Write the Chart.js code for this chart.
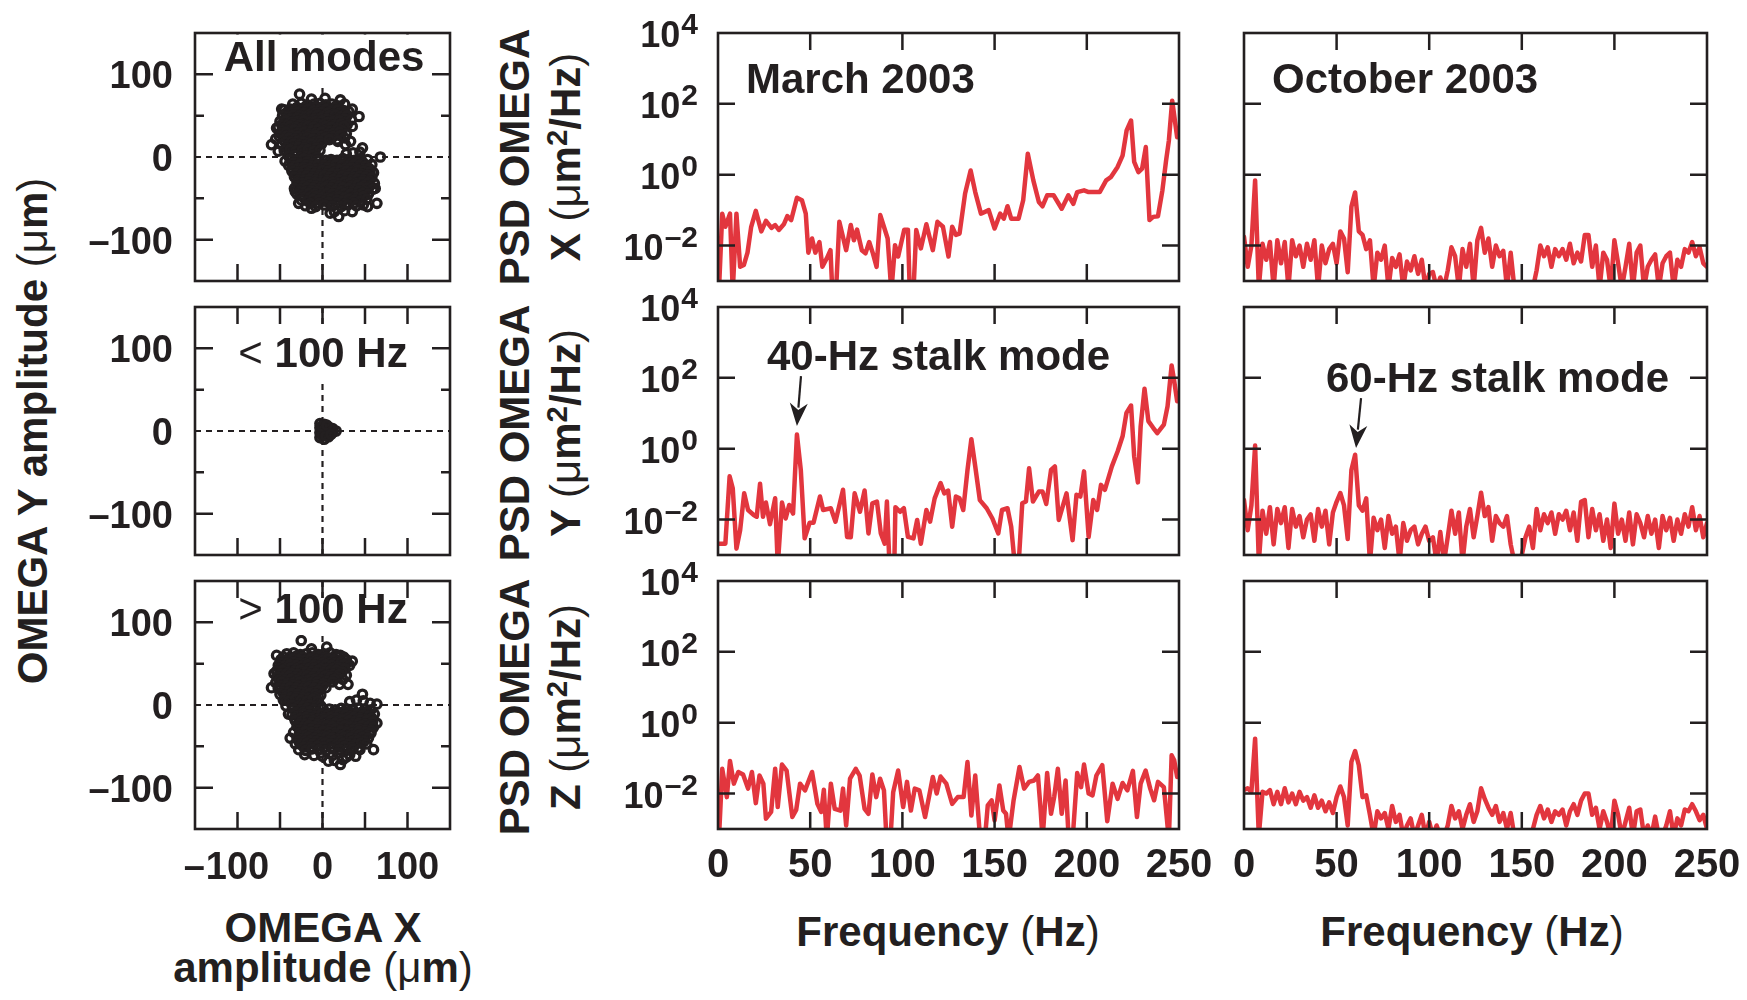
<!DOCTYPE html>
<html>
<head>
<meta charset="utf-8">
<script src="https://cdn.jsdelivr.net/npm/chart.js@4.4.0/dist/chart.umd.min.js"></script>
<style>
  html, body { margin: 0; padding: 0; background: #fff; }
  body { width: 1747px; height: 1000px; position: relative; overflow: hidden;
         font-family: "Liberation Sans", Arial, Helvetica, sans-serif; color: #231f20; }
  canvas { position: absolute; }
  .ttl { position: absolute; font-weight: bold; font-size: 42px; line-height: 1; white-space: nowrap;
         transform: translate(-50%, -50%); }
  .rot { transform: translate(-50%, -50%) rotate(-90deg); }
  .n { font-weight: normal; }
  .sup { font-size: 0.7em; position: relative; top: -0.45em; }
</style>
</head>
<body>
<div class="ttl rot" style="left:33px; top:431px">OMEGA Y amplitude <span class="n">(μ</span>m<span class="n">)</span></div>
<div class="ttl rot" style="left:515px; top:157px">PSD OMEGA</div>
<div class="ttl rot" style="left:566px; top:157px">X <span class="n">(μ</span>m<span class="sup">2</span>/Hz<span class="n">)</span></div>
<div class="ttl rot" style="left:515px; top:433px">PSD OMEGA</div>
<div class="ttl rot" style="left:566px; top:433px">Y <span class="n">(μ</span>m<span class="sup">2</span>/Hz<span class="n">)</span></div>
<div class="ttl rot" style="left:515px; top:707px">PSD OMEGA</div>
<div class="ttl rot" style="left:566px; top:707px">Z <span class="n">(μ</span>m<span class="sup">2</span>/Hz<span class="n">)</span></div>
<div class="ttl" style="left:323px; top:928px">OMEGA X</div>
<div class="ttl" style="left:323px; top:968px">amplitude <span class="n">(μ</span>m<span class="n">)</span></div>
<div class="ttl" style="left:948px; top:932px">Frequency <span class="n">(</span>Hz<span class="n">)</span></div>
<div class="ttl" style="left:1472px; top:932px">Frequency <span class="n">(</span>Hz<span class="n">)</span></div>

<script>
const ink = '#231f20';
const red = '#e2363e';
const fam = '"Liberation Sans", Arial, sans-serif';

// tick labels
const ampTicks = [-100, 0, 100];
const freqTicks = [0, 50, 100, 150, 200, 250];
const psdExp = [-2, 0, 2, 4];

// OMEGA X / Y amplitude (um)
const allModesXY = [
  [-27,76],[-13,70],[3,71],[21,69],[35,58],[43,49],[35,37],[33,19],[27,15],[-48,58],[-54,35],[-60,15],[-52,7],
  [-44,-5],[-36,-17],[-32,-42],[-28,-56],[-13,-62],[9,-68],[19,-72],[35,-66],[53,-60],[64,-56],[62,-38],[60,-19],[68,0],[47,11],
  [-35,64],[-25,65],[-18,63],[-10,64],[-3,65],[4,63],[11,64],[18,62],[26,64],
  [-30,60],[-21,60],[-14,59],[-7,61],[0,60],[7,59],[14,60],[21,58],
  [-45,57],[-38,58],[-31,56],[-24,57],[-17,58],[-10,56],[-3,57],[4,58],[11,56],[18,57],[25,56],[31,55],
  [-43,53],[-36,53],[-29,54],[-22,53],[-15,52],[-8,53],[-1,54],[6,53],[13,52],[20,53],[27,53],
  [-47,50],[-40,49],[-34,51],[-27,50],[-20,49],[-13,50],[-6,51],[1,49],[8,50],[15,51],[22,49],[29,50],
  [-44,46],[-37,46],[-30,47],[-23,46],[-16,45],[-9,46],[-2,47],[5,46],[12,45],[19,46],[26,46],
  [-50,43],[-43,44],[-36,42],[-29,43],[-22,44],[-15,42],[-8,43],[-1,44],[6,42],[13,43],[20,44],[27,42],[34,45],
  [-48,39],[-41,39],[-34,40],[-27,39],[-20,38],[-13,39],[-6,40],[1,39],[8,38],[15,39],[22,40],[29,39],
  [-52,36],[-45,35],[-38,37],[-31,36],[-24,35],[-17,37],[-10,36],[-3,35],[4,37],[11,36],[18,35],[25,37],
  [-47,32],[-40,32],[-33,33],[-26,32],[-19,31],[-12,32],[-5,33],[2,32],[9,31],[16,32],[23,32],
  [-50,29],[-43,30],[-36,28],[-29,29],[-22,30],[-15,28],[-8,29],[-1,30],[6,28],[13,29],[20,30],[28,28],
  [-51,25],[-43,25],[-36,26],[-29,25],[-22,24],[-15,25],[-8,26],[-1,25],[6,24],[13,25],[21,26],
  [-55,22],[-46,21],[-39,23],[-32,22],[-25,21],[-18,23],[-11,22],[-4,21],[3,23],[10,22],[17,21],[26,23],
  [-44,18],[-37,18],[-30,19],[-23,18],[-16,17],[-9,18],[-3,19],
  [-48,15],[-41,14],[-34,16],[-27,15],[-20,14],[-13,16],[-6,15],[-1,16],[8,21],[18,19],
  [-42,11],[-35,11],[-28,12],[-21,11],[-14,10],[-7,11],
  [-45,8],[-38,9],[-31,7],[-24,8],[-17,9],[-10,7],[-3,8],
  [-40,1],[-33,2],[-26,0],[-19,1],[-12,2],[-6,0],
  [28,4],[36,5],[44,6],
  [-38,-3],[-30,-4],[-22,-2],[-14,-3],[-6,-4],[4,-4],[10,-3],[17,-4],[24,-2],[31,-3],[38,-4],[45,-2],[53,-3],
  [-34,-7],[-26,-7],[-18,-6],[-10,-7],[-1,-8],[6,-7],[13,-6],[20,-7],[27,-8],[34,-7],[41,-6],[48,-7],
  [-40,-10],[-33,-11],[-26,-9],[-19,-10],[-12,-11],[-5,-9],[2,-10],[9,-11],[16,-9],[23,-10],[30,-11],[37,-9],[44,-10],[51,-11],[58,-9],
  [-36,-14],[-29,-14],[-22,-13],[-15,-14],[-8,-15],[-1,-14],[6,-13],[13,-14],[20,-15],[27,-14],[34,-13],[41,-14],[48,-15],[55,-14],
  [-35,-17],[-28,-18],[-21,-16],[-14,-17],[-7,-18],[0,-16],[7,-17],[14,-18],[21,-16],[28,-17],[35,-18],[42,-16],[49,-17],[56,-18],
  [-31,-21],[-24,-21],[-17,-20],[-10,-21],[-3,-22],[4,-21],[11,-20],[18,-21],[25,-22],[32,-21],[39,-20],[46,-21],[53,-22],
  [-33,-24],[-26,-25],[-19,-23],[-12,-24],[-5,-25],[2,-23],[9,-24],[16,-25],[23,-23],[30,-24],[37,-25],[44,-23],[51,-24],[58,-25],
  [-29,-28],[-22,-28],[-15,-27],[-8,-28],[-1,-29],[6,-28],[13,-27],[20,-28],[27,-29],[34,-28],[41,-27],[48,-28],[55,-29],
  [-30,-31],[-23,-32],[-16,-30],[-9,-31],[-2,-32],[5,-30],[12,-31],[19,-32],[26,-30],[33,-31],[40,-32],[47,-30],[54,-31],[61,-32],
  [-29,-35],[-22,-35],[-15,-34],[-8,-35],[-1,-36],[6,-35],[13,-34],[20,-35],[27,-36],[34,-35],[41,-34],[48,-35],[55,-36],
  [-33,-38],[-25,-39],[-18,-37],[-11,-38],[-4,-39],[3,-37],[10,-38],[17,-39],[24,-37],[31,-38],[38,-39],[45,-37],[52,-38],[59,-39],
  [-27,-42],[-20,-42],[-13,-41],[-6,-42],[1,-43],[8,-42],[15,-41],[22,-42],[29,-43],[36,-42],[43,-41],[50,-42],
  [-30,-45],[-23,-46],[-16,-44],[-9,-45],[-2,-46],[5,-44],[12,-45],[19,-46],[26,-44],[33,-45],[40,-46],[47,-44],[54,-45],
  [-22,-49],[-15,-49],[-8,-48],[-1,-49],[6,-50],[13,-49],[20,-48],[27,-49],[34,-50],[41,-49],[48,-48],
  [-25,-52],[-18,-53],[-11,-51],[-4,-52],[3,-53],[10,-51],[17,-52],[24,-53],[31,-51],[38,-52],[45,-53],[52,-51],
  [-14,-56],[-4,-56],[7,-55],[17,-56],[27,-57],[37,-56],
  [-20,-59],[-8,-60],[2,-58],[12,-59],[22,-60],[30,-58],[40,-59],[48,-58],
  [14,-66],[26,-65]
];
const below100XY = [
  [-3,-8],[-3,-2],[-3,4],[-3,9],[2,-10],[2,-4],[2,2],[2,8],[7,-7],[7,-1],[7,5],[12,-2],[12,3],[16,0],[0,0],[5,2],
  [-1,-5],[4,-6],[9,3],[-1,6],[5,7],[10,-4]
];
const above100XY = [
  [-54,60],[-25,78],[-13,68],[5,70],[21,60],[35,53],[30,25],[-60,21],[-40,-11],[-28,-22],[-38,-40],[-21,-60],[7,-68],
  [21,-72],[39,-62],[60,-54],[64,-22],[64,1],[47,13],[-57,38],[28,36],
  [-42,62],[-34,63],[-26,61],[-19,62],[-12,63],[-5,61],[2,62],[9,63],[16,61],
  [-46,58],[-38,58],[-31,59],[-24,58],[-17,57],[-10,58],[-3,59],[4,58],[11,57],[18,58],[25,58],
  [-49,55],[-42,54],[-35,56],[-28,55],[-21,54],[-14,56],[-7,55],[0,54],[7,56],[14,55],[21,54],[28,55],
  [-48,51],[-41,51],[-34,52],[-27,51],[-20,50],[-13,51],[-6,52],[1,51],[8,50],[15,51],[22,52],[29,51],
  [-52,48],[-45,47],[-38,49],[-31,48],[-24,47],[-17,49],[-10,48],[-3,47],[4,49],[11,48],[18,47],[25,49],[32,48],
  [-51,44],[-44,44],[-37,45],[-30,44],[-23,43],[-16,44],[-9,45],[-2,44],[5,43],[12,44],[19,45],[26,44],
  [-54,41],[-47,42],[-40,40],[-33,41],[-26,42],[-19,40],[-12,41],[-5,42],[2,40],[9,41],[16,42],[23,40],
  [-50,37],[-43,37],[-36,38],[-29,37],[-22,36],[-15,37],[-8,38],[-1,37],[6,36],[13,37],[20,37],
  [-53,34],[-46,33],[-39,35],[-32,34],[-25,33],[-18,35],[-11,34],[-4,33],[3,35],[10,34],[17,33],[24,31],
  [-51,30],[-44,30],[-37,31],[-30,30],[-23,29],[-16,30],[-9,31],[-2,30],[5,29],[14,31],
  [-55,27],[-48,28],[-41,26],[-34,27],[-27,28],[-20,26],[-13,27],[-6,28],[1,26],[12,28],[20,25],
  [-49,23],[-42,23],[-35,24],[-28,23],[-21,22],[-14,23],[-7,24],[0,23],
  [-52,20],[-45,19],[-38,21],[-31,20],[-24,19],[-17,21],[-10,20],[-3,19],[4,21],
  [-47,16],[-40,16],[-33,17],[-26,16],[-19,15],[-12,16],[-5,17],
  [-50,13],[-43,12],[-36,14],[-29,13],[-22,12],[-15,14],[-8,13],[-2,12],
  [-44,9],[-37,9],[-30,10],[-23,9],[-16,8],[-9,9],
  [-46,6],[-39,5],[-32,7],[-25,6],[-18,5],[-11,7],[-5,5],
  [-43,-1],[-36,0],[-29,-2],[-22,-1],[-15,0],[-8,-2],[-2,-1],
  [32,4],[40,6],[48,5],[56,2],
  [-34,-5],[-26,-6],[-18,-4],[-10,-5],[0,-4],[8,-5],[15,-6],[22,-4],[29,-5],[36,-6],[43,-4],[50,-5],[57,-6],
  [-31,-9],[-23,-9],[-15,-8],[-6,-9],[4,-9],[11,-10],[18,-9],[25,-8],[32,-9],[39,-10],[46,-9],[53,-8],
  [-36,-12],[-29,-13],[-22,-11],[-15,-12],[-8,-13],[-1,-11],[6,-12],[13,-13],[20,-11],[27,-12],[34,-13],[41,-11],[48,-12],[55,-13],[61,-11],
  [-33,-16],[-26,-16],[-19,-15],[-12,-16],[-5,-17],[2,-16],[9,-15],[16,-16],[23,-17],[30,-16],[37,-15],[44,-16],[51,-17],[58,-16],
  [-32,-19],[-25,-20],[-18,-18],[-11,-19],[-4,-20],[3,-18],[10,-19],[17,-20],[24,-18],[31,-19],[38,-20],[45,-18],[52,-19],[59,-20],
  [-27,-23],[-20,-23],[-13,-22],[-6,-23],[1,-24],[8,-23],[15,-22],[22,-23],[29,-24],[36,-23],[43,-22],[50,-23],[57,-24],
  [-30,-26],[-23,-27],[-16,-25],[-9,-26],[-2,-27],[5,-25],[12,-26],[19,-27],[26,-25],[33,-26],[40,-27],[47,-25],[54,-26],[60,-27],
  [-27,-30],[-20,-30],[-13,-29],[-6,-30],[1,-31],[8,-30],[15,-29],[22,-30],[29,-31],[36,-30],[43,-29],[50,-30],[57,-31],
  [-34,-33],[-27,-34],[-20,-32],[-13,-33],[-6,-34],[1,-32],[8,-33],[15,-34],[22,-32],[29,-33],[36,-34],[43,-32],[50,-33],[57,-34],
  [-26,-37],[-19,-37],[-12,-36],[-5,-37],[2,-38],[9,-37],[16,-36],[23,-37],[30,-38],[37,-37],[44,-36],[51,-37],
  [-30,-40],[-23,-41],[-16,-39],[-9,-40],[-2,-41],[5,-39],[12,-40],[19,-41],[26,-39],[33,-40],[40,-41],[47,-39],[54,-40],
  [-28,-44],[-21,-44],[-14,-43],[-7,-44],[0,-45],[7,-44],[14,-43],[21,-44],[28,-45],[35,-44],[42,-43],[49,-44],
  [-32,-47],[-25,-48],[-18,-46],[-11,-47],[-4,-48],[3,-46],[10,-47],[17,-48],[24,-46],[31,-47],[38,-48],[45,-46],[52,-47],
  [-22,-51],[-14,-51],[-6,-50],[2,-51],[10,-52],[18,-51],[26,-50],[34,-51],[42,-52],
  [-28,-54],[-20,-55],[-12,-53],[-4,-54],[4,-55],[12,-53],[20,-54],[28,-55],[36,-53],[44,-54],
  [-10,-61],[0,-62],[12,-61],[28,-63],[32,-60],[-2,-58],[18,-58],
  [14,-67],[24,-66]
];

// March 2003 spectra: [frequency Hz, log10 PSD (um^2/Hz)]
const marchX = [
  [0.5,-3.3],[2.3,-1.1],[4,-1.47],[6.5,-1.1],[8,-3.3],[10,-1.1],[12,-2.6],[14,-2.55],[16,-2.2],[18,-1.47],[20.5,-1.02],
  [23.5,-1.6],[26,-1.3],[29,-1.5],[31,-1.42],[33,-1.56],[35.7,-1.4],[37.6,-1.17],[39.7,-1.28],[42.8,-0.65],[45.5,-0.72],
  [47.6,-1.1],[49,-2.2],[51,-1.8],[52.8,-2.2],[55,-1.9],[56.6,-2.6],[59,-2.36],[61,-2.13],[62,-3.3],[64,-3.3],[65.8,-1.33],
  [69.5,-2.13],[72,-1.42],[73.7,-1.85],[75.4,-1.55],[78,-2.13],[80,-2.22],[82,-1.9],[84,-2.22],[86,-2.6],[88,-1.14],
  [92,-1.8],[94,-3.3],[96,-1.99],[97.7,-2.31],[101,-1.55],[103,-1.55],[104,-3.3],[106,-3.3],[107.5,-1.56],[110,-2.08],
  [113,-1.4],[116.5,-2.13],[119,-1.33],[122,-1.47],[125,-2.31],[127,-1.47],[129,-1.7],[131,-1.66],[134,-0.53],[137,0.12],
  [139.5,-0.49],[142.6,-1.1],[146.8,-1.0],[150,-1.52],[153,-1.1],[155,-1.24],[157,-0.89],[159,-1.24],[163,-1.24],
  [165.5,-0.72],[168,0.59],[171,-0.16],[174,-0.77],[176,-0.89],[178.5,-0.58],[182,-0.58],[186.4,-0.96],[190,-0.58],
  [192.7,-0.82],[194.8,-0.49],[198.5,-0.44],[201,-0.49],[207,-0.49],[210.5,-0.16],[213,-0.07],[216.7,0.22],[219.4,0.54],
  [221.6,1.25],[224,1.53],[225.7,0.36],[228,0.07],[230,0.17],[232,0.78],[234,-1.28],[236,-1.19],[238.6,-1.17],[241,-0.44],
  [243,0.4],[244.5,0.96],[246.3,2.09],[249,1.06]
];
const marchY = [
  [0.5,-2.68],[4,-2.68],[6.3,-0.78],[8,-1.12],[10,-2.82],[12,-2.3],[14.2,-1.26],[16.3,-1.73],[19.4,-1.87],[21,-1.92],
  [22.8,-0.99],[24.4,-1.92],[26,-1.52],[28.2,-2.13],[31,-1.4],[32.4,-3.3],[34.7,-1.52],[36.7,-1.97],[38.6,-1.59],
  [40.7,-1.83],[42.8,0.4],[44.9,-0.6],[47,-2.53],[49.7,-2.09],[51.8,-2.09],[55.3,-1.35],[57,-1.73],[61.2,-1.68],
  [63.7,-2.06],[67.8,-1.16],[70,-2.49],[72,-2.5],[74.1,-1.26],[77,-1.78],[79.5,-1.18],[81.6,-2.39],[83.7,-1.54],
  [86.2,-1.49],[88.3,-2.39],[90.4,-2.68],[91.6,-1.49],[93,-3.3],[95.6,-3.3],[96.2,-1.65],[98.7,-1.78],[100.8,-1.68],
  [103,-2.49],[106,-2.53],[108,-2.01],[110,-2.68],[113,-1.73],[115,-2.06],[117.5,-1.4],[120.7,-0.97],[122.7,-1.26],
  [124.8,-1.18],[127,-2.2],[129,-1.35],[131,-1.4],[133,-1.73],[135.3,-0.6],[137.4,0.27],[139.5,-0.5],[142,-1.45],
  [145.7,-1.68],[148.8,-1.97],[152,-2.39],[154,-1.73],[157,-1.68],[159,-2.2],[161,-3.3],[163,-3.3],[165,-1.54],
  [167,-1.49],[168.7,-0.55],[170.8,-1.49],[174,-1.21],[176,-1.21],[178,-1.56],[180.6,-0.6],[182.7,-0.5],[184.8,-2.01],
  [189,-1.26],[192.3,-2.58],[194.4,-1.3],[196.5,-1.35],[198.5,-0.64],[201,-2.49],[203.5,-1.45],[205.6,-1.73],
  [207.7,-1.02],[209.8,-1.16],[213.6,-0.5],[216.7,-0.08],[219.4,0.35],[221.5,1.01],[224,1.22],[225.7,-0.22],
  [227.7,-0.95],[229.2,0.63],[231.3,1.69],[233.4,0.78],[236,0.59],[238.2,0.44],[241.8,0.68],[243.8,1.2],[246,2.35],
  [247.4,1.91],[249,1.34]
];
const marchZ = [
  [0.5,-3.3],[2.3,-1.3],[4.8,-2.1],[6.5,-1.08],[8.6,-1.72],[11,-1.39],[13.6,-1.46],[16.3,-1.86],[18.4,-1.39],[20.5,-2.27],
  [22.5,-1.49],[24.6,-1.72],[26,-2.71],[28.8,-2.52],[31,-1.3],[32.4,-2.38],[34.7,-1.18],[37.2,-1.35],[40.3,-2.66],
  [42.4,-2.46],[44.5,-1.72],[47.2,-1.91],[51,-1.39],[53.9,-2.29],[56,-2.52],[57.4,-1.89],[59,-3.3],[61.2,-1.72],
  [63.3,-2.43],[66.4,-2.48],[67.8,-1.86],[69.5,-2.9],[71.6,-1.58],[74.7,-1.3],[76.8,-1.49],[79.5,-2.43],[81.6,-2.57],
  [83.7,-1.46],[85.8,-2.1],[87.9,-1.58],[90,-1.91],[91.4,-3.3],[93.5,-3.3],[95,-1.96],[97.7,-1.35],[100.4,-2.38],
  [102.5,-1.67],[104.6,-2.48],[106.7,-1.86],[109.2,-1.91],[112.3,-2.66],[114.4,-2.1],[116.5,-1.53],[118.6,-2.0],
  [120.7,-1.52],[123.8,-1.72],[127,-2.29],[130,-2.1],[133.2,-2.1],[135.3,-1.11],[137.4,-2.62],[139.5,-1.49],[142.2,-3.3],
  [144.7,-3.3],[146.3,-2.33],[148.4,-2.19],[150,-2.76],[152.6,-1.77],[154.7,-2.48],[156.2,-2.57],[157.6,-3.3],
  [160.3,-2.19],[163.5,-1.25],[166,-1.86],[168.7,-1.67],[171.4,-1.63],[173.5,-1.49],[175,-2.48],[176,-3.3],[178.5,-1.42],
  [180.6,-2.57],[182.3,-2.1],[184.3,-1.3],[186.4,-2.57],[188.5,-1.63],[190.2,-3.3],[192.3,-3.3],[194.8,-1.42],
  [196.9,-1.82],[198.5,-1.18],[201,-2.0],[203.1,-2.05],[205.2,-1.49],[208.4,-1.2],[211.1,-2.78],[214,-1.72],[216.7,-2.15],
  [219.4,-1.7],[222,-1.91],[225,-1.36],[227.2,-2.66],[229.2,-1.72],[231.9,-1.35],[234.4,-1.86],[236.5,-2.19],[238.6,-1.67],
  [241.8,-1.82],[244.5,-3.3],[246,-0.92],[247.4,-1.06],[249,-1.53]
];

// October 2003 spectra: frequency bins (Hz) and log10 PSD (um^2/Hz)
const octFreq = [
  0,2,4,6,8,10,12,14,16,18,20,22,24,26,28,30,32,34,36,38,40,42,44,46,48,50,52,54,56,58,60,62,64,66,68,70,72,74,76,78,
  80,82,84,86,88,90,92,94,96,98,100,102,104,106,108,110,112,114,116,118,120,122,124,126,128,130,132,134,136,138,
  140,142,144,146,148,150,152,154,156,158,160,162,164,166,168,170,172,174,176,178,180,182,184,186,188,190,192,194,196,198,
  200,202,204,206,208,210,212,214,216,218,220,222,224,226,228,230,232,234,236,238,240,242,244,246,248,250
];
const octX = [
  -1.75,-2.6,-2.0,-0.16,-3.2,-1.95,-2.4,-1.9,-3.2,-1.85,
  -2.5,-1.9,-3.2,-1.85,-2.3,-2.0,-2.6,-1.95,-2.4,-1.85,
  -3.2,-2.0,-2.5,-2.1,-1.95,-2.5,-1.6,-1.8,-2.75,-0.9,
  -0.5,-1.6,-1.7,-2.1,-1.85,-3.2,-2.2,-2.4,-2.0,-3.2,
  -2.35,-2.6,-2.25,-3.2,-2.45,-2.7,-2.3,-2.8,-2.4,-3.2,
  -2.8,-2.75,-3.2,-2.9,-3.2,-2.7,-2.05,-2.3,-3.2,-2.1,
  -2.6,-1.95,-3.2,-1.85,-1.5,-2.2,-1.8,-2.6,-2.0,-2.3,
  -2.15,-3.2,-2.2,-3.2,-3.2,-3.2,-3.2,-3.2,-3.2,-2.7,
  -2.0,-2.3,-2.05,-2.6,-2.1,-2.3,-2.1,-2.4,-1.95,-2.5,
  -2.2,-2.45,-1.7,-1.7,-2.6,-2.0,-3.2,-2.2,-2.4,-3.2,
  -1.85,-2.5,-3.2,-2.6,-1.95,-3.2,-2.2,-2.0,-3.2,-2.6,
  -2.4,-2.25,-3.2,-2.5,-2.3,-2.2,-3.2,-2.4,-2.6,-2.1,
  -2.2,-1.9,-2.3,-2.05,-2.5,-2.6
];
const octY = [
  -1.45,-2.3,-1.6,0.09,-3.2,-1.75,-2.4,-1.65,-2.7,-1.7,
  -2.1,-1.65,-2.8,-1.7,-2.2,-1.9,-2.5,-2.0,-1.85,-2.6,
  -1.7,-2.2,-1.75,-2.7,-1.8,-1.5,-1.25,-1.6,-2.55,-0.6,
  -0.17,-1.6,-1.75,-1.4,-3.2,-1.95,-2.3,-2.0,-2.8,-1.9,
  -2.4,-2.2,-3.2,-2.1,-2.6,-2.3,-2.2,-2.7,-2.4,-2.2,
  -2.6,-2.5,-3.2,-2.35,-3.2,-2.5,-1.75,-2.4,-1.8,-3.2,
  -2.2,-1.7,-2.5,-1.9,-1.24,-1.9,-1.65,-2.6,-1.9,-2.1,
  -2.2,-1.9,-2.7,-3.2,-3.2,-3.0,-2.5,-2.2,-2.8,-1.7,
  -2.3,-1.85,-2.1,-1.8,-2.4,-1.85,-2.0,-1.75,-2.3,-1.8,
  -2.6,-1.5,-1.45,-2.5,-1.7,-2.3,-1.85,-2.6,-2.0,-2.8,
  -1.55,-2.4,-2.0,-2.6,-1.8,-2.7,-1.85,-2.1,-2.5,-1.9,
  -2.4,-2.0,-2.8,-1.9,-2.3,-1.95,-2.6,-2.0,-2.4,-1.85,
  -2.2,-1.65,-2.3,-1.9,-2.5,-2.1
];
const octZ = [
  -1.9,-1.85,-1.95,-0.45,-3.2,-1.95,-2.0,-1.9,-2.3,-1.95,
  -2.3,-1.85,-2.25,-2.0,-2.3,-1.95,-2.2,-2.1,-2.4,-2.05,
  -2.4,-2.2,-2.5,-2.25,-2.55,-2.1,-1.8,-2.1,-2.9,-1.1,
  -0.8,-1.2,-2.1,-2.05,-2.6,-3.2,-2.5,-2.7,-2.55,-3.0,
  -2.35,-2.8,-2.6,-3.2,-2.9,-2.7,-3.2,-2.9,-2.6,-3.2,
  -2.8,-3.2,-2.9,-3.2,-3.2,-2.9,-2.35,-2.7,-2.5,-3.0,
  -2.6,-2.3,-2.8,-2.5,-1.85,-2.15,-2.4,-2.6,-2.35,-2.8,
  -2.55,-3.0,-2.55,-3.2,-3.2,-3.2,-3.2,-3.2,-3.0,-2.6,
  -2.35,-2.7,-2.45,-2.8,-2.5,-2.6,-2.45,-2.9,-2.5,-2.3,
  -2.6,-2.2,-2.0,-2.0,-2.6,-2.4,-3.0,-2.5,-2.8,-3.2,
  -2.2,-2.6,-3.2,-2.8,-2.4,-3.2,-2.5,-2.45,-3.2,-2.9,
  -3.2,-2.65,-3.2,-3.2,-2.9,-2.5,-3.2,-2.7,-2.9,-2.45,
  -2.5,-2.3,-2.5,-2.75,-2.6,-3.0
];

// frame, inward ticks, tick labels and notes, placed with the chart's own scales
const frame = {
  id: 'frame',
  beforeDatasetsDraw(chart, args, o) {
    if (!o.zero) return;
    const {ctx, chartArea: a, scales: {x, y}} = chart;
    const x0 = x.getPixelForValue(0), y0 = y.getPixelForValue(0);
    ctx.save();
    ctx.strokeStyle = ink;
    ctx.lineWidth = 2.2;
    ctx.setLineDash([6, 5]);
    ctx.beginPath();
    ctx.moveTo(a.left, y0); ctx.lineTo(a.right, y0);
    ctx.moveTo(x0, a.top); ctx.lineTo(x0, a.bottom);
    ctx.stroke();
    ctx.restore();
  },
  afterDatasetsDraw(chart, args, o) {
    const {ctx, chartArea: a, scales: {x, y}} = chart;
    ctx.save();
    ctx.strokeStyle = ink;
    ctx.fillStyle = ink;
    ctx.setLineDash([]);
    ctx.lineWidth = 2.5;
    ctx.beginPath();
    (o.xTicks || []).forEach(v => {
      const px = x.getPixelForValue(v);
      ctx.moveTo(px, a.bottom); ctx.lineTo(px, a.bottom - 17);
      ctx.moveTo(px, a.top); ctx.lineTo(px, a.top + 17);
    });
    (o.yTicks || []).forEach(([v, len]) => {
      const py = y.getPixelForValue(v);
      ctx.moveTo(a.left, py); ctx.lineTo(a.left + len, py);
      ctx.moveTo(a.right, py); ctx.lineTo(a.right - len, py);
    });
    ctx.stroke();

    // white backing behind panel notes that sit over the zero lines
    (o.notes || []).forEach(n => {
      if (!n.bg) return;
      ctx.font = 'bold ' + (n.size || 42) + 'px ' + fam;
      const w = ctx.measureText((n.lead || '') + n.text).width + 14;
      ctx.fillStyle = '#fff';
      ctx.fillRect(a.left + n.dx - w / 2, a.top + n.bg[0], w, n.bg[1] - n.bg[0]);
      ctx.fillStyle = ink;
    });

    ctx.lineWidth = 2.6;
    ctx.strokeRect(a.left, a.top, a.right - a.left, a.bottom - a.top);

    ctx.textBaseline = 'alphabetic';
    // amplitude labels
    if (o.yAmp) {
      ctx.font = 'bold 38px ' + fam;
      ctx.textAlign = 'right';
      o.yAmp.forEach(v => {
        const s = v < 0 ? '–' + Math.abs(v) : String(v);
        ctx.fillText(s, a.left - 22, y.getPixelForValue(v) + 14);
      });
    }
    if (o.xAmp) {
      ctx.font = 'bold 38px ' + fam;
      o.xAmp.forEach(v => {
        const px = x.getPixelForValue(v);
        const d = String(Math.abs(v));
        const w = ctx.measureText(d).width;
        ctx.textAlign = 'center';
        ctx.fillText(d, px, a.bottom + 50);
        if (v < 0) { ctx.textAlign = 'right'; ctx.fillText('–', px - w / 2 - 1, a.bottom + 50); }
      });
    }
    // PSD decade labels 10^n
    if (o.yExp) {
      o.yExp.forEach(e => {
        const py = y.getPixelForValue(Math.pow(10, e));
        const es = e < 0 ? '–' + Math.abs(e) : String(e);
        ctx.font = 'bold 30px ' + fam;
        const ew = ctx.measureText(es).width;
        const right = a.left - 20;
        ctx.textAlign = 'left';
        ctx.fillText(es, right - ew, py + 1);
        ctx.font = 'bold 36px ' + fam;
        ctx.textAlign = 'right';
        ctx.fillText('10', right - ew - 1, py + 14);
      });
    }
    if (o.xFreq) {
      ctx.font = 'bold 40px ' + fam;
      ctx.textAlign = 'center';
      o.xFreq.forEach(v => ctx.fillText(String(v), x.getPixelForValue(v), a.bottom + 48));
    }
    // notes
    (o.notes || []).forEach(n => {
      const size = n.size || 42;
      const base = a.top + n.dy + size * 0.36;
      ctx.textAlign = 'left';
      ctx.font = size + 'px ' + fam;
      const lw = n.lead ? ctx.measureText(n.lead).width : 0;
      ctx.font = 'bold ' + size + 'px ' + fam;
      const bw = ctx.measureText(n.text).width;
      let left = a.left + n.dx;
      if (n.center) left -= (lw + bw) / 2;
      if (n.lead) {
        ctx.font = size + 'px ' + fam;
        ctx.fillText(n.lead, left, base);
        ctx.font = 'bold ' + size + 'px ' + fam;
      }
      ctx.fillText(n.text, left + lw, base);
    });
    // arrows, anchored in data units [Hz, log10 PSD]
    (o.arrows || []).forEach(([f0, l0, f1, l1]) => {
      const x0 = x.getPixelForValue(f0), y0 = y.getPixelForValue(Math.pow(10, l0));
      const x1 = x.getPixelForValue(f1), y1 = y.getPixelForValue(Math.pow(10, l1));
      const ang = Math.atan2(y1 - y0, x1 - x0);
      const c = Math.cos(ang), s = Math.sin(ang);
      const hl = 23, hw = 9;
      ctx.lineWidth = 2.2;
      ctx.beginPath();
      ctx.moveTo(x0, y0);
      ctx.lineTo(x1 - hl * 0.8 * c, y1 - hl * 0.8 * s);
      ctx.stroke();
      ctx.beginPath();
      ctx.moveTo(x1, y1);
      ctx.lineTo(x1 - hl * c - hw * s, y1 - hl * s + hw * c);
      ctx.lineTo(x1 - hl * 0.7 * c, y1 - hl * 0.7 * s);
      ctx.lineTo(x1 - hl * c + hw * s, y1 - hl * s - hw * c);
      ctx.closePath();
      ctx.fill();
    });
    ctx.restore();
  }
};
Chart.register(frame);

const pad = {left: 130, right: 45, top: 40, bottom: 70};

function makePanel(box, type, dataset, scales, frameOpts) {
  const [L, T, R, B] = box;
  const c = document.createElement('canvas');
  c.width = R - L + pad.left + pad.right;
  c.height = B - T + pad.top + pad.bottom;
  c.style.left = (L - pad.left) + 'px';
  c.style.top = (T - pad.top) + 'px';
  document.body.appendChild(c);
  return new Chart(c, {
    type: type,
    data: {datasets: [dataset]},
    options: {
      responsive: false,
      animation: false,
      devicePixelRatio: 1,
      events: [],
      layout: {padding: pad},
      scales: scales,
      plugins: {legend: {display: false}, tooltip: {enabled: false}, frame: frameOpts}
    }
  });
}

const colAmp = [195, 450], colMar = [718, 1179], colOct = [1244, 1707];
const rows = [[33, 281], [307, 555], [581, 829]];

const ampScales = {
  x: {type: 'linear', min: -150, max: 150, display: false},
  y: {type: 'linear', min: -150, max: 150, display: false}
};
const psdScales = {
  x: {type: 'linear', min: 0, max: 250, display: false},
  y: {type: 'logarithmic', min: 1e-3, max: 1e4, display: false}
};

function scatterSet(pts) {
  return {
    data: pts.map(([x, y]) => ({x, y})),
    pointRadius: 4.2,
    pointBorderWidth: 3.3,
    pointBorderColor: ink,
    pointBackgroundColor: 'rgba(0,0,0,0)',
    pointStyle: 'circle',
    clip: false
  };
}
function lineSet(pts) {
  return {
    data: pts.map(([f, l]) => ({x: f, y: Math.pow(10, l)})),
    borderColor: red,
    borderWidth: 4.5,
    borderJoinStyle: 'round',
    borderCapStyle: 'round',
    pointRadius: 0,
    tension: 0,
    clip: 0
  };
}
const zipOct = logs => octFreq.map((f, i) => [f, logs[i]]);

const ampFrame = (bottom, note) => ({
  zero: true,
  xTicks: [-100, -50, 0, 50, 100],
  yTicks: [[-100, 18], [-50, 9], [50, 9], [100, 18]],
  yAmp: ampTicks,
  xAmp: bottom ? ampTicks : null,
  notes: [note]
});
const psdFrame = (left, bottom, notes, arrows) => ({
  xTicks: [50, 100, 150, 200],
  yTicks: [[1e-2, 17], [1, 17], [1e2, 17]],
  yExp: left ? psdExp : null,
  xFreq: bottom ? freqTicks : null,
  notes: notes || [],
  arrows: arrows || []
});

const box = (col, row) => [col[0], row[0], col[1], row[1]];

makePanel(box(colAmp, rows[0]), 'scatter', scatterSet(allModesXY), ampScales,
  ampFrame(false, {text: 'All modes', dx: 129, dy: 23, center: true, size: 42, bg: [1.5, 52]}));
makePanel(box(colAmp, rows[1]), 'scatter', scatterSet(below100XY), ampScales,
  ampFrame(false, {lead: '<', text: ' 100 Hz', dx: 128, dy: 45, center: true, size: 42, bg: [19, 73]}));
makePanel(box(colAmp, rows[2]), 'scatter', scatterSet(above100XY), ampScales,
  ampFrame(true, {lead: '>', text: ' 100 Hz', dx: 128, dy: 27, center: true, size: 42, bg: [19, 54]}));

makePanel(box(colMar, rows[0]), 'line', lineSet(marchX), psdScales,
  psdFrame(true, false, [{text: 'March 2003', dx: 28, dy: 45}]));
makePanel(box(colMar, rows[1]), 'line', lineSet(marchY), psdScales,
  psdFrame(true, false, [{text: '40-Hz stalk mode', dx: 49, dy: 48}], [[45, 2.05, 42.8, 0.64]]));
makePanel(box(colMar, rows[2]), 'line', lineSet(marchZ), psdScales,
  psdFrame(true, true));

makePanel(box(colOct, rows[0]), 'line', lineSet(zipOct(octX)), psdScales,
  psdFrame(false, false, [{text: 'October 2003', dx: 28, dy: 45}]));
makePanel(box(colOct, rows[1]), 'line', lineSet(zipOct(octY)), psdScales,
  psdFrame(false, false, [{text: '60-Hz stalk mode', dx: 82, dy: 70}], [[63.2, 1.43, 60.5, 0.02]]));
makePanel(box(colOct, rows[2]), 'line', lineSet(zipOct(octZ)), psdScales,
  psdFrame(false, true));
</script>
</body>
</html>
